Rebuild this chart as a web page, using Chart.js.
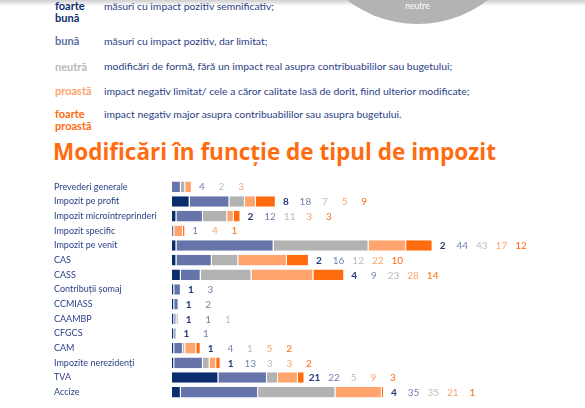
<!DOCTYPE html>
<html>
<head>
<meta charset="utf-8">
<script src="https://cdn.jsdelivr.net/npm/chart.js@4"></script>
<style>
  body { margin: 0; width: 585px; height: 408px; overflow: hidden; background: #fff; position: relative; font-family: Lato, "Open Sans", sans-serif; }
  .shade { position: absolute; left: 0; top: 0; width: 585px; height: 6px; background: linear-gradient(#cfcfcf, #fff); }
  .pie { position: absolute; left: 302px; top: -207px; width: 231px; height: 231px; border-radius: 50%; background: #b3b3b3; }
  .pie span { position: absolute; left: 0; width: 231px; top: 208px; text-align: center; color: #fff; font-size: 8.5px; }
  .key { position: absolute; left: 55px; font-size: 11px; font-weight: bold; line-height: 11.5px; }
  .desc { position: absolute; left: 104px; font-size: 10.4px; color: #2b3e86; line-height: 11px; }
  .title { position: absolute; left: 53px; top: 136px; font-family: "Open Sans", sans-serif; font-size: 22.5px; font-weight: 700; color: #ff6b0f; white-space: nowrap; }
  #wrap { position: absolute; left: 54px; top: 174.3px; }
</style>
</head>
<body>
<div class="shade"></div>
<div class="pie"><span>neutre</span></div>

<div class="key" style="top:0px;color:#0a2d6e">foarte<br>bună</div>
<div class="desc" style="top:1px">măsuri cu impact pozitiv semnificativ;</div>
<div class="key" style="top:35px;color:#5d6ea6">bună</div>
<div class="desc" style="top:36px">măsuri cu impact pozitiv, dar limitat;</div>
<div class="key" style="top:61px;color:#b8b8b8">neutră</div>
<div class="desc" style="top:61px">modificări de formă, fără un impact real asupra contribuabililor sau bugetului;</div>
<div class="key" style="top:85px;color:#ffa46c">proastă</div>
<div class="desc" style="top:86px">impact negativ limitat/ cele a căror calitate lasă de dorit, fiind ulterior modificate;</div>
<div class="key" style="top:108px;color:#ff6b0f">foarte<br>proastă</div>
<div class="desc" style="top:109px">impact negativ major asupra contribuabililor sau asupra bugetului.</div>

<div class="title">Modificări în funcție de tipul de impozit</div>

<div id="wrap"><canvas id="chart" width="531" height="231"></canvas></div>

<script>
const categories = [
  'Prevederi generale', 'Impozit pe profit', 'Impozit microintreprinderi', 'Impozit specific',
  'Impozit pe venit', 'CAS', 'CASS', 'Contribuții șomaj', 'CCMIASS', 'CAAMBP', 'CFGCS',
  'CAM', 'Impozite nerezidenți', 'TVA', 'Accize'
];
const seriesNames = ['foarte bună', 'bună', 'neutră', 'proastă', 'foarte proastă'];
const foarteBuna   = [0, 8, 2, 0, 2, 2, 4, 1, 1, 1, 1, 1, 1, 21, 4];
const buna         = [4, 18, 12, 1, 44, 16, 9, 3, 2, 1, 1, 4, 13, 22, 35];
const neutra       = [2, 7, 11, 0, 43, 12, 23, 0, 0, 1, 0, 1, 3, 5, 35];
const proasta      = [3, 5, 3, 4, 17, 22, 28, 0, 0, 0, 0, 5, 3, 9, 21];
const foarteProasta = [0, 9, 3, 1, 12, 10, 14, 0, 0, 0, 0, 2, 2, 3, 1];

const series = [foarteBuna, buna, neutra, proasta, foarteProasta];
const barColors = ['#0a2d6e', '#6575aa', '#b2b2b2', '#ffa46c', '#ff6b0f'];
const labelColors = ['#253a7a', '#7181b3', '#bdbdbd', '#ffa46c', '#ff6b0f'];

// numbers written after each bar, one per non-zero series
const valueLabels = {
  id: 'valueLabels',
  afterDatasetsDraw(chart) {
    const ctx = chart.ctx;
    const xs = chart.scales.x;
    const ys = chart.scales.y;
    ctx.save();
    ctx.textAlign = 'center';
    ctx.textBaseline = 'middle';
    categories.forEach((cat, i) => {
      const total = series.reduce((s, arr) => s + arr[i], 0);
      let x = xs.getPixelForValue(total) + 10;
      const y = ys.getPixelForValue(i) + 0.5;
      series.forEach((arr, k) => {
        if (!arr[i]) return;
        ctx.font = (k === 0 ? 'bold ' : '') + '10px Lato, sans-serif';
        ctx.fillStyle = labelColors[k];
        ctx.fillText(arr[i], x, y);
        x += 19.6;
      });
    });
    ctx.restore();
  }
};

new Chart(document.getElementById('chart'), {
  type: 'bar',
  data: {
    labels: categories,
    datasets: series.map((arr, k) => ({
      label: seriesNames[k],
      data: arr,
      backgroundColor: barColors[k],
      borderColor: 'rgba(255,255,255,0.9)',
      borderWidth: { top: 0, bottom: 0, left: 0, right: 1 },
      borderSkipped: false,
      barPercentage: 0.72,
      categoryPercentage: 1
    }))
  },
  options: {
    indexAxis: 'y',
    responsive: false,
    animation: false,
    layout: { padding: 0 },
    plugins: {
      legend: { display: false },
      tooltip: { enabled: false }
    },
    scales: {
      x: { stacked: true, display: false, min: 0, max: 187 },
      y: {
        stacked: true,
        grid: { display: false },
        border: { display: false },
        ticks: {
          color: '#2a3f87',
          font: { family: 'Lato', size: 9 },
          crossAlign: 'far',
          padding: 0
        },
        afterFit(scale) { scale.width = 118; }
      }
    }
  },
  plugins: [valueLabels]
});
</script>
</body>
</html>
